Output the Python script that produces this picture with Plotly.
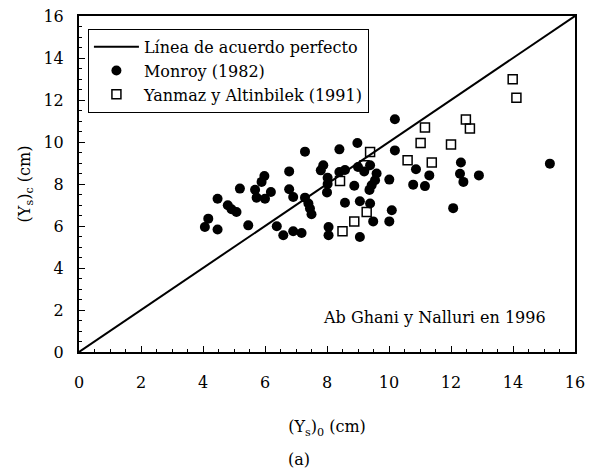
import plotly.graph_objects as go

# Monroy (1982) data: observed (Ys)0, computed (Ys)c
monroy_x = [4.06, 4.17, 4.47, 4.47, 4.80, 4.92, 5.08, 5.19, 5.46, 5.68, 5.73, 5.89, 5.98, 6.00,
            6.19, 6.38, 6.59, 6.78, 6.78, 6.91, 6.91, 7.18, 7.29, 7.29, 7.40, 7.45, 7.50, 7.80,
            7.88, 8.02, 8.02, 8.00, 8.05, 8.05, 8.40, 8.40, 8.58, 8.58, 8.88, 8.98, 9.00, 9.20,
            9.06, 9.06, 9.39, 9.60, 9.55, 9.44, 9.37, 9.39, 9.49, 10.01, 10.09, 10.01, 10.19,
            10.19, 10.87, 10.78, 11.16, 11.30, 12.07, 12.32, 12.29, 12.40, 12.90, 15.19]
monroy_y = [5.95, 6.35, 5.83, 7.30, 6.99, 6.80, 6.67, 7.78, 6.03, 7.73, 7.35, 8.10, 8.38, 7.30,
            7.62, 5.99, 5.56, 8.60, 7.75, 7.38, 5.75, 5.67, 9.54, 7.35, 7.07, 6.83, 6.56, 8.65,
            8.89, 8.30, 8.00, 7.60, 5.95, 5.56, 9.65, 8.57, 8.67, 7.11, 7.92, 9.95, 8.81, 8.60,
            7.18, 5.48, 8.89, 8.50, 8.18, 7.94, 7.72, 7.07, 6.22, 6.22, 6.75, 8.21, 11.08,
            9.60, 8.70, 7.97, 7.90, 8.41, 6.85, 9.02, 8.49, 8.10, 8.41, 8.97]

# Yanmaz y Altinbilek (1991)
yanmaz_x = [8.42, 8.50, 8.88, 9.21, 9.28, 9.39, 10.60, 11.02, 11.16, 11.38, 12.00, 12.48,
            12.61, 13.99, 14.11]
yanmaz_y = [8.14, 5.75, 6.22, 8.89, 6.67, 9.52, 9.13, 9.95, 10.69, 9.02, 9.88, 11.07,
            10.64, 12.99, 12.11]

# Perfect agreement line
line_x = [0, 16]
line_y = [0, 16]

FONT = "DejaVu Serif"
FS = 16

fig = go.Figure()
fig.add_trace(go.Scatter(x=line_x, y=line_y, mode="lines",
                         line=dict(color="black", width=2),
                         name="Línea de acuerdo perfecto"))
fig.add_trace(go.Scatter(x=monroy_x, y=monroy_y, mode="markers",
                         marker=dict(symbol="circle", size=10, color="black"),
                         name="Monroy (1982)"))
fig.add_trace(go.Scatter(x=yanmaz_x, y=yanmaz_y, mode="markers",
                         marker=dict(symbol="square-open", size=9, color="black",
                                     line=dict(width=1.5, color="black")),
                         name="Yanmaz y Altinbilek (1991)"))

axis_common = dict(
    range=[0, 16], dtick=2, tick0=0,
    showgrid=False, zeroline=False, automargin=False,
    ticklabeloverflow="allow",
    showline=True, linecolor="black", linewidth=2, mirror=True,
    ticks="inside", ticklen=6, tickwidth=1, tickcolor="black",
    minor=dict(dtick=0.5, ticks="inside", ticklen=3, tickwidth=1, tickcolor="black"),
    tickfont=dict(family=FONT, size=FS, color="black"),
)

fig.update_layout(
    width=590, height=462,
    margin=dict(l=71, r=23, t=8, b=118),
    paper_bgcolor="white", plot_bgcolor="white",
    font=dict(family=FONT, size=FS, color="black"),
    showlegend=True,
    legend=dict(x=0.018, y=0.962, xanchor="left", yanchor="top",
                bgcolor="white", bordercolor="black", borderwidth=1,
                font=dict(family=FONT, size=FS, color="black"),
                tracegroupgap=0, itemwidth=45),
    xaxis=dict(**axis_common, ticklabelstandoff=15,
               title=dict(text="(Y<sub>s</sub>)<sub>0</sub> (cm)", standoff=30,
                          font=dict(family=FONT, size=FS))),
    yaxis=dict(**axis_common, ticklabelstandoff=10,
               title=dict(text="(Y<sub>s</sub>)<sub>c</sub> (cm)", standoff=9,
                          font=dict(family=FONT, size=FS))),
    annotations=[
        dict(x=0.9456, y=0.104, xref="paper", yref="paper", xanchor="right", yanchor="middle",
             text="Ab Ghani y Nalluri en 1996", showarrow=False,
             font=dict(family=FONT, size=FS, color="black")),
        dict(x=0.4435, y=-0.321, xref="paper", yref="paper", xanchor="center",
             yanchor="middle", text="(a)", showarrow=False,
             font=dict(family=FONT, size=FS, color="black")),
    ],
)

fig.write_html("out.html")
